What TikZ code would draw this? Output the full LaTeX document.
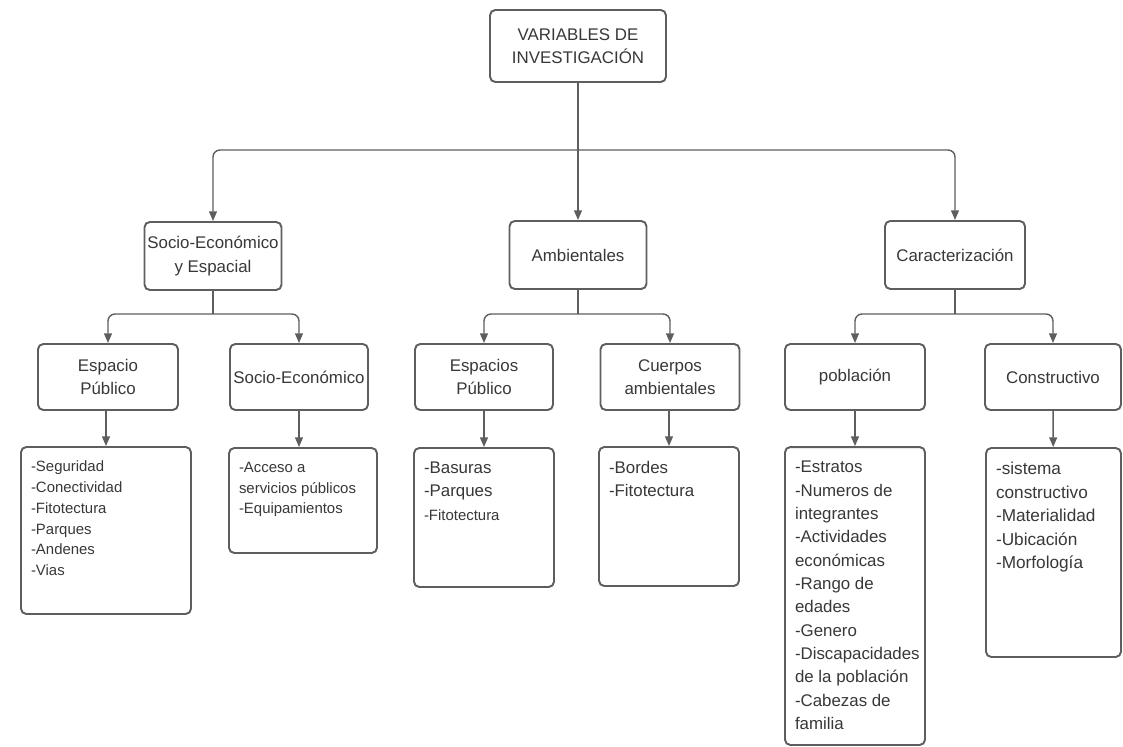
\documentclass[tikz,border=0pt]{standalone}
\usepackage{fontspec}
\setmainfont{Liberation Sans}
\usetikzlibrary{arrows.meta}
\definecolor{linegray}{HTML}{5E5E5E}
\definecolor{txtgray}{HTML}{383838}
\newcommand{\fbig}{\fontsize{9.6}{13.3}\selectfont}
\newcommand{\fsmall}{\fontsize{8.5}{11.8}\selectfont}
\newcommand{\lista}[3]{\parbox[c][#2][t]{#1}{\raggedright\exhyphenpenalty=10000 \hyphenpenalty=10000 \hfuzz=20pt #3}}
\begin{document}
\begin{tikzpicture}[x=0.02cm,y=-0.02cm,
  caja/.style={draw=linegray, line width=1.1pt, rounded corners=3pt, fill=white,
    text=txtgray, font=\fbig, align=center, inner sep=0pt},
  lst/.style={draw=linegray, line width=1.1pt, rounded corners=3pt, fill=white,
    text=txtgray, font=\fbig, inner xsep=0.2cm, inner ysep=0.28cm},
  flecha/.style={draw=linegray, line width=0.8pt, rounded corners=4pt,
    -{Triangle[width=4.5pt,length=5.5pt]}},
  linea/.style={draw=linegray, line width=0.8pt}]
\useasboundingbox (0,0) rectangle (1123,747);
\node[caja, minimum width=3.52cm, minimum height=1.44cm] (var) at (578,46) {VARIABLES DE\\INVESTIGACIÓN};
\node[caja, minimum width=2.74cm, minimum height=1.36cm] (soc) at (213,256) {Socio-Económico\\y Espacial};
\node[caja, minimum width=2.74cm, minimum height=1.36cm] (amb) at (578,255) {Ambientales};
\node[caja, minimum width=2.80cm, minimum height=1.36cm] (car) at (955,255) {Caracterización};
\node[caja, minimum width=2.80cm, minimum height=1.32cm] (esp) at (108,377) {Espacio\\Público};
\node[caja, minimum width=2.76cm, minimum height=1.32cm] (seco) at (299,377) {Socio-Económico};
\node[caja, minimum width=2.76cm, minimum height=1.32cm] (esps) at (484,377) {Espacios\\Público};
\node[caja, minimum width=2.78cm, minimum height=1.32cm] (cue) at (670,377) {Cuerpos\\ambientales};
\node[caja, minimum width=2.80cm, minimum height=1.32cm] (pob) at (855,377) {población};
\node[caja, minimum width=2.72cm, minimum height=1.32cm] (cons) at (1053,377) {Constructivo};
\node[lst, font=\fsmall] (l1) at (106,530.5) {\lista{3.0cm}{2.78cm}{-Seguridad\\-Conectividad\\-Fitotectura\\-Parques\\-Andenes\\-Vias}};
\node[lst, font=\fsmall] (l2) at (303,500.5) {\lista{2.56cm}{1.54cm}{-Acceso a\\servicios públicos\\-Equipamientos}};
\node[lst] (l3) at (484,517.5) {\lista{2.40cm}{2.22cm}{-Basuras\\-Parques\\{\fsmall-Fitotectura}}};
\node[lst] (l4) at (669,516.5) {\lista{2.40cm}{2.22cm}{-Bordes\\-Fitotectura}};
\node[lst] (l5) at (855,596) {\lista{2.40cm}{5.40cm}{-Estratos\\-Numeros de\\integrantes\\-Actividades\\económicas\\-Rango de\\edades\\-Genero\\-Discapacidades\\de la población\\-Cabezas de\\familia}};
\node[lst, font=\fontsize{9.8}{13.4}\selectfont] (l6) at (1053.5,552.5) {\lista{2.30cm}{3.62cm}{-sistema\\constructivo\\-Materialidad\\-Ubicación\\-Morfología}};
\coordinate (j0) at (578,150);
\coordinate (j1) at (213,314);
\coordinate (j2) at (578,314);
\coordinate (j3) at (955,314);
\draw[linea] (var) -- (j0);
\draw[flecha] (j0) -| (soc);
\draw[flecha] (j0) -- (amb);
\draw[flecha] (j0) -| (car);
\draw[linea] (soc) -- (j1);
\draw[linea] (amb) -- (j2);
\draw[linea] (car) -- (j3);
\draw[flecha] (j1) -| (esp);
\draw[flecha] (j1) -| (seco);
\draw[flecha] (j2) -| (esps);
\draw[flecha] (j2) -| (cue);
\draw[flecha] (j3) -| (pob);
\draw[flecha] (j3) -| (cons);
\draw[flecha] (esp.south -| l1.north) -- (l1.north);
\draw[flecha] (seco.south) -- (seco.south |- l2.north);
\draw[flecha] (esps) -- (l3);
\draw[flecha] (cue.south -| l4.north) -- (l4.north);
\draw[flecha] (pob) -- (l5);
\draw[flecha] (cons) -- (l6);
\end{tikzpicture}
\end{document}
